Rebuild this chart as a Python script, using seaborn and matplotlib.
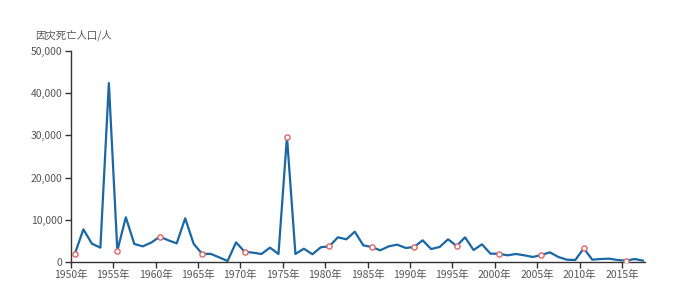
import matplotlib
matplotlib.use("Agg")
import matplotlib.pyplot as plt
import matplotlib.ticker as mticker
import seaborn as sns
import pandas as pd

years = list(range(1950, 2018))
deaths = [2000, 7740, 4340, 3400, 42400, 2680, 10590, 4270, 3710, 4600,
          6000, 5150, 4420, 10350, 4300, 1930, 1930, 1110, 240, 4660,
          2450, 2210, 1900, 3400, 1900, 29700, 1900, 3150, 1830, 3500,
          3710, 5850, 5380, 7180, 3950, 3550, 2770, 3710, 4110, 3320,
          3550, 5140, 3080, 3550, 5380, 3790, 5850, 2840, 4190, 1970,
          1970, 1580, 1900, 1580, 1190, 1660, 2290, 1190, 550, 470,
          3240, 550, 710, 790, 470, 320, 710, 320]
y_label = "因灾死亡人口/人"
tick_years = list(range(1950, 2020, 5))
tick_labels = [f"{y}年" for y in tick_years]

df = pd.DataFrame({"year": years, "deaths": deaths})
marks = df[df["year"] % 5 == 0]

sns.set_theme(style="white")
plt.rcParams["font.family"] = ["Noto Sans CJK SC", "DejaVu Sans"]

fig = plt.figure(figsize=(6.8, 2.98), dpi=100)
ax = fig.add_axes([70.7 / 680, 1 - 262 / 298, (645 - 70.7) / 680, (262 - 51) / 298])

sns.lineplot(data=df, x="year", y="deaths", ax=ax, color="#1a67a6", linewidth=1.6)
sns.scatterplot(data=marks, x="year", y="deaths", ax=ax, s=14, facecolor="white",
                edgecolor="#e06666", linewidth=1.0, zorder=5)

ax.set_xlim(1949.5, 2017.22)
ax.set_ylim(0, 50000)
ax.set_xticks([y - 0.5 for y in tick_years])
ax.set_xticklabels(tick_labels)
ax.set_yticks(range(0, 50001, 10000))
ax.yaxis.set_major_formatter(mticker.FuncFormatter(lambda v, p: f"{int(v):,}"))
ax.set_xlabel("")
ax.set_ylabel("")

for s in ["top", "right"]:
    ax.spines[s].set_visible(False)
for s in ["left", "bottom"]:
    ax.spines[s].set_color("#333333")
    ax.spines[s].set_linewidth(1.0)

ax.tick_params(axis="both", which="major", length=4.5, width=1.0, color="#333333",
               labelsize=7.5, labelcolor="#555555", pad=1.5, direction="out",
               bottom=True, left=True)

fig.text(35 / 680, 1 - 35 / 298, y_label, fontsize=7.5, color="#555555",
         ha="left", va="center")

fig.savefig("out.png", dpi=100)
